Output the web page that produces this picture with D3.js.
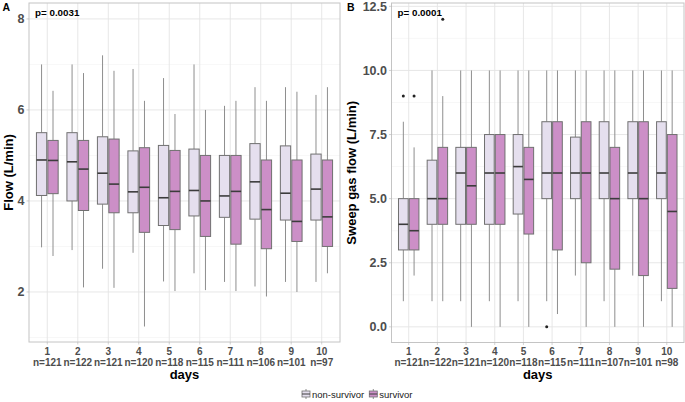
<!DOCTYPE html>
<html>
<head>
<meta charset="utf-8">
<script src="https://cdn.jsdelivr.net/npm/d3@7"></script>
<style>
  html, body { margin: 0; padding: 0; background: #fff; }
  svg { display: block; font-family: "Liberation Sans", Arial, sans-serif; }
</style>
</head>
<body>
<svg id="chart" width="685" height="402"></svg>
<script>
// ---------- data ----------
const days = ["1","2","3","4","5","6","7","8","9","10"];
const groups = ["non-survivor", "survivor"];
const nFlow  = ["n=121","n=122","n=121","n=120","n=118","n=115","n=111","n=106","n=101","n=97"];
const nSweep = ["n=121","n=122","n=121","n=120","n=118","n=115","n=111","n=107","n=101","n=98"];
const flowTicks  = [2, 4, 6, 8];
const sweepTicks = [0, 2.5, 5, 7.5, 10, 12.5];
const pFlow = "p= 0.0031";
const pSweep = "p= 0.0001";

// [lower whisker, Q1, median, Q3, upper whisker]
const flowNonSurvivor = [
  [2.98,4.12,4.90,5.50,7.00],[2.92,4.00,4.86,5.50,7.00],[2.51,3.93,4.61,5.41,7.20],
  [2.86,3.74,4.20,5.10,6.90],[2.23,3.46,4.07,5.22,6.70],[2.41,3.67,4.23,5.14,7.00],
  [2.22,3.64,4.11,5.00,6.09],[2.12,3.60,4.42,5.26,6.50],[2.22,3.58,4.17,5.21,6.50],
  [2.22,3.58,4.26,5.03,6.33]
];
const flowSurvivor = [
  [2.79,4.16,4.89,5.33,6.42],[2.10,3.79,4.70,5.33,6.81],[2.09,3.74,4.37,5.36,6.86],
  [1.24,3.31,4.30,5.17,6.20],[2.02,3.37,4.21,5.11,5.91],[2.04,3.22,4.00,5.00,6.00],
  [2.02,3.05,4.21,5.00,6.20],[1.90,2.95,3.81,4.90,6.20],[2.00,3.11,3.55,4.90,6.40],
  [2.41,3.00,3.65,4.90,6.50]
];
const sweepNonSurvivor = [
  [1,3,4,5,8],[1,4,5,6.5,10],[1,4,6,7,10],[1,4,6,7.5,10],[1,4.4,6.25,7.5,10],
  [1,5,6,8,10],[2,5,6,7.4,10],[1,5,6,8,10],[2,5,6,8,10],[1,5,6,8,10]
];
const sweepSurvivor = [
  [2,3,3.75,5,7],[1,4,5,7,9],[0,4,5.5,7,10],[0,4,6,7.5,10],[0,3.62,5.75,7,10],
  [0.5,3,6,8,10],[0,2.5,6,8,10],[0,2.25,5,7,10],[0,2,5,8,10],[0,1.5,4.5,7.5,10]
];
// outliers: [day, value]
const sweepOutNonSurvivor = [["1", 9], ["6", 0]];
const sweepOutSurvivor = [["1", 9], ["2", 12]];

// ---------- style ----------
const fillColor = {"non-survivor": "#e5dfee", "survivor": "#cc8fc7"};
const boxStroke = "#707070", whiskerStroke = "#8e8e8e", medianStroke = "#3c3c3c";
const gridMajor = "#e4e4e4", gridMinor = "#f1f1f1", borderColor = "#c4c4c4";
const tickTextColor = "#4d4d4d";

const svg = d3.select("#chart");

function panel(cfg) {
  const g = svg.append("g");
  const x = d3.scalePoint().domain(days).range([cfg.left, cfg.right]).padding(0.6);
  const y = d3.scaleLinear().domain(cfg.yDomain).range([cfg.bottom, cfg.top]);
  const step = x.step();

  // minor grid
  const ticks = cfg.ticks;
  const minor = [];
  const dt = ticks[1] - ticks[0];
  for (let i = -1; i < ticks.length; i++) {
    const v = ticks[0] + (i + 0.5) * dt;
    if (v > cfg.yDomain[0] && v < cfg.yDomain[1]) minor.push(v);
  }
  g.append("g").selectAll("line").data(minor).join("line")
    .attr("x1", cfg.left).attr("x2", cfg.right)
    .attr("y1", d => y(d)).attr("y2", d => y(d))
    .attr("stroke", gridMinor).attr("stroke-width", 0.6);
  // major grid
  g.append("g").selectAll("line").data(ticks).join("line")
    .attr("x1", cfg.left).attr("x2", cfg.right)
    .attr("y1", d => y(d)).attr("y2", d => y(d))
    .attr("stroke", gridMajor).attr("stroke-width", 0.9);
  g.append("g").selectAll("line").data(days).join("line")
    .attr("y1", cfg.top).attr("y2", cfg.bottom)
    .attr("x1", d => x(d)).attr("x2", d => x(d))
    .attr("stroke", gridMajor).attr("stroke-width", 0.9);

  // boxes
  const half = step * 0.375;
  const bw = half * 0.9;
  const series = [{name: "non-survivor", data: cfg.ns, off: -half / 2},
                  {name: "survivor", data: cfg.s, off: half / 2}];
  series.forEach(s => {
    const sg = g.append("g");
    s.data.forEach((d, i) => {
      const cx = x(days[i]) + s.off;
      sg.append("line").attr("x1", cx).attr("x2", cx)
        .attr("y1", y(d[4])).attr("y2", y(d[3]))
        .attr("stroke", whiskerStroke).attr("stroke-width", 1);
      sg.append("line").attr("x1", cx).attr("x2", cx)
        .attr("y1", y(d[1])).attr("y2", y(d[0]))
        .attr("stroke", whiskerStroke).attr("stroke-width", 1);
      sg.append("rect").attr("x", cx - bw / 2).attr("width", bw)
        .attr("y", y(d[3])).attr("height", y(d[1]) - y(d[3]))
        .attr("fill", fillColor[s.name]).attr("stroke", boxStroke).attr("stroke-width", 1);
      sg.append("line").attr("x1", cx - bw / 2).attr("x2", cx + bw / 2)
        .attr("y1", y(d[2])).attr("y2", y(d[2]))
        .attr("stroke", medianStroke).attr("stroke-width", 1.6);
    });
  });
  // outliers
  (cfg.outNS || []).forEach(o => {
    g.append("circle").attr("cx", x(o[0]) - half / 2).attr("cy", y(o[1])).attr("r", 1.5).attr("fill", "#222");
  });
  (cfg.outS || []).forEach(o => {
    g.append("circle").attr("cx", x(o[0]) + half / 2).attr("cy", y(o[1])).attr("r", 1.5).attr("fill", "#222");
  });

  // border
  g.append("rect").attr("x", cfg.left).attr("y", cfg.top)
    .attr("width", cfg.right - cfg.left).attr("height", cfg.bottom - cfg.top)
    .attr("fill", "none").attr("stroke", borderColor).attr("stroke-width", 1);

  // y ticks
  g.append("g").selectAll("line").data(ticks).join("line")
    .attr("x1", cfg.left - 2.5).attr("x2", cfg.left)
    .attr("y1", d => y(d)).attr("y2", d => y(d))
    .attr("stroke", "#b3b3b3").attr("stroke-width", 0.6);
  g.append("g").selectAll("text").data(ticks).join("text")
    .attr("x", cfg.left - 4.5).attr("y", d => y(d)).attr("dy", "0.36em")
    .attr("text-anchor", "end").attr("font-size", "12.5px").attr("font-weight", "bold")
    .attr("fill", tickTextColor)
    .text(d => cfg.fmt(d));

  // x ticks
  g.append("g").selectAll("line").data(days).join("line")
    .attr("x1", d => x(d)).attr("x2", d => x(d))
    .attr("y1", cfg.bottom).attr("y2", cfg.bottom + 2.5)
    .attr("stroke", "#b3b3b3").attr("stroke-width", 0.6);
  const xt = g.append("g").selectAll("text").data(days).join("text")
    .attr("text-anchor", "middle").attr("font-size", "10px").attr("font-weight", "bold")
    .attr("fill", tickTextColor);
  xt.append("tspan").attr("x", d => x(d)).attr("y", 354.5).text(d => d);
  xt.append("tspan").attr("x", d => x(d)).attr("y", 365.5).text((d, i) => cfg.nLabels[i]);

  // axis titles
  g.append("text").attr("x", (cfg.left + cfg.right) / 2).attr("y", 378.5)
    .attr("text-anchor", "middle").attr("font-size", "13px").attr("font-weight", "bold")
    .attr("fill", "#000").text("days");
  g.append("text")
    .attr("transform", `translate(${cfg.titleX},${(cfg.top + cfg.bottom) / 2}) rotate(-90)`)
    .attr("text-anchor", "middle").attr("font-size", "13px").attr("font-weight", "bold")
    .attr("fill", "#000").text(cfg.yTitle);

  // p value
  g.append("text").attr("x", cfg.left + 6).attr("y", 15.5)
    .attr("font-size", "9.8px").attr("font-weight", "bold").attr("fill", "#000").text(cfg.p);
  // tag
  g.append("text").attr("x", cfg.tagX).attr("y", 11)
    .attr("font-size", "10.5px").attr("font-weight", "bold").attr("fill", "#000").text(cfg.tag);
}

panel({
  left: 29, right: 340, top: 3, bottom: 342, yDomain: [0.9, 8.35],
  ticks: flowTicks, fmt: d => d3.format("d")(d),
  ns: flowNonSurvivor, s: flowSurvivor, nLabels: nFlow,
  yTitle: "Flow (L/min)", titleX: 13, p: pFlow, tag: "A", tagX: 2.5
});
panel({
  left: 391.5, right: 684, top: 3, bottom: 342.5, yDomain: [-0.61, 12.63],
  ticks: sweepTicks, fmt: d => d3.format(".1f")(d),
  ns: sweepNonSurvivor, s: sweepSurvivor, nLabels: nSweep,
  outNS: sweepOutNonSurvivor, outS: sweepOutSurvivor,
  yTitle: "Sweep gas flow (L/min)", titleX: 356, p: pSweep, tag: "B", tagX: 347
});

// legend (laid out from measured text widths)
const legend = svg.append("g");
let lx = 302;
groups.forEach(name => {
  const kx = lx;
  const cx = kx + 4;
  legend.append("line").attr("x1", cx).attr("x2", cx).attr("y1", 389).attr("y2", 399)
    .attr("stroke", whiskerStroke).attr("stroke-width", 1);
  legend.append("rect").attr("x", kx).attr("y", 391).attr("width", 8).attr("height", 6)
    .attr("fill", fillColor[name]).attr("stroke", boxStroke).attr("stroke-width", 0.8);
  legend.append("line").attr("x1", kx).attr("x2", kx + 8).attr("y1", 394).attr("y2", 394)
    .attr("stroke", medianStroke).attr("stroke-width", 1);
  const t = legend.append("text").attr("x", kx + 10).attr("y", 397.5)
    .attr("font-size", "9.5px").attr("fill", "#1a1a1a").text(name);
  const w = t.node().getComputedTextLength();
  lx = kx + 10 + w + 5;
});
</script>
</body>
</html>
